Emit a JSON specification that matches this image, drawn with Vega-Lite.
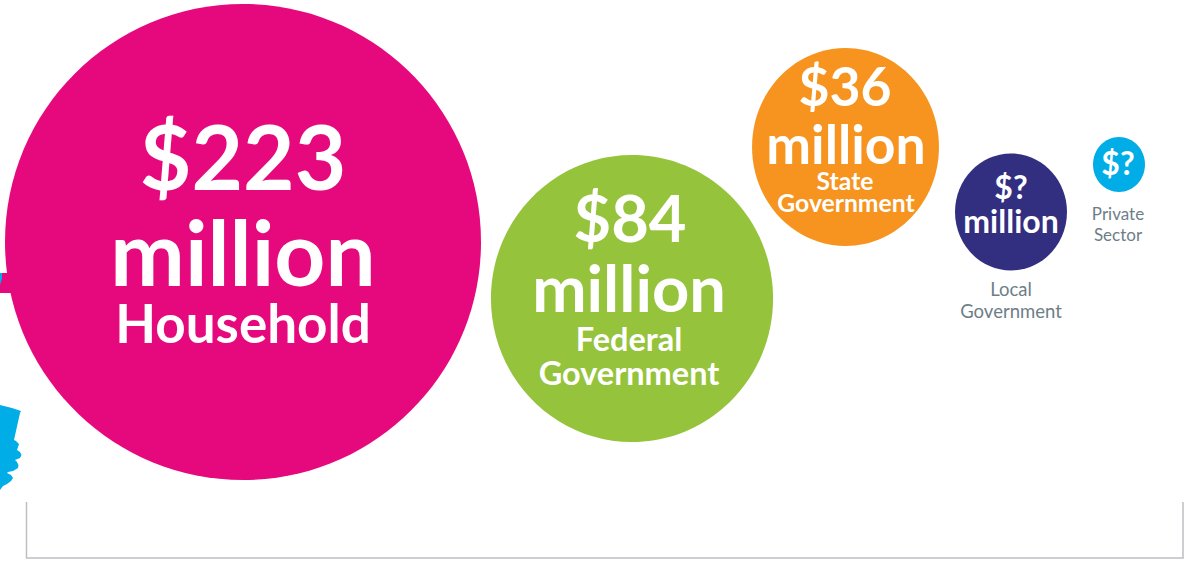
{
"$schema":"https://vega.github.io/schema/vega-lite/v6.json",
"width":1187,"height":565,
"autosize":{"type":"none"},
"padding":0,
"background":"white",
"view":{"stroke":null},
"config":{"axis":{"disable":true},"legend":{"disable":true}},
"datasets":{
"bubbles":[
{"sector":"Household","amount":223,"cx":243,"cy":242},
{"sector":"Federal Government","amount":84,"cx":632,"cy":298.5},
{"sector":"State Government","amount":36,"cx":845.5,"cy":147},
{"sector":"Local Government","amount":14,"cx":1011,"cy":212},
{"sector":"Private Sector","amount":3,"cx":1119,"cy":164.5}
],
"labels":[
{"label":"$223","cx":243,"cy":163,"role":"h1"},
{"label":"million","cx":243,"cy":259,"role":"h1"},
{"label":"Household","cx":243,"cy":327,"role":"h2"},
{"label":"$84","cx":630,"cy":222,"role":"f1"},
{"label":"million","cx":629,"cy":292,"role":"f1"},
{"label":"Federal","cx":629,"cy":341,"role":"f2"},
{"label":"Government","cx":629,"cy":375,"role":"f2"},
{"label":"$36","cx":845,"cy":90,"role":"s1"},
{"label":"million","cx":846,"cy":148,"role":"s1"},
{"label":"State","cx":845,"cy":183,"role":"s2"},
{"label":"Government","cx":846,"cy":205,"role":"s2"},
{"label":"$?","cx":1011,"cy":189,"role":"l1"},
{"label":"million","cx":1011,"cy":223,"role":"l1"},
{"label":"Local","cx":1011,"cy":289.5,"role":"cap1"},
{"label":"Government","cx":1011,"cy":311.5,"role":"cap1"},
{"label":"$?","cx":1118,"cy":165,"role":"l1"},
{"label":"Private","cx":1118,"cy":215,"role":"cap2"},
{"label":"Sector","cx":1118,"cy":236,"role":"cap2"}
],
"bracket":[
{"step":1,"cx":26.5,"cy":502},
{"step":2,"cx":26.5,"cy":558},
{"step":3,"cx":1183,"cy":558},
{"step":4,"cx":1183,"cy":502}
],
"hand":[
{"cy":405,"edge":0},{"cy":408,"edge":12},{"cy":411,"edge":21},{"cy":413,"edge":20},{"cy":440,"edge":14},{"cy":441,"edge":16},{"cy":444,"edge":19},{"cy":447,"edge":18},{"cy":450,"edge":17},{"cy":452,"edge":20},{"cy":455,"edge":21.5},{"cy":458,"edge":20},{"cy":460,"edge":15},{"cy":462,"edge":17},{"cy":465,"edge":18.5},{"cy":468,"edge":18},{"cy":471,"edge":13},{"cy":472,"edge":8},{"cy":473,"edge":7},{"cy":475,"edge":11},{"cy":478,"edge":13},{"cy":481,"edge":11},{"cy":484,"edge":7},{"cy":486,"edge":3},{"cy":490,"edge":0}
],
"arrow":[{"cy":273,"edge":15},{"cy":293,"edge":15}],
"sliver":[{"cy":273,"edge":2},{"cy":279,"edge":2},{"cy":285,"edge":0}]
},
"layer":[
{"data":{"name":"hand"},"mark":{"type":"area","orient":"horizontal","color":"#00ADE6"},
 "encoding":{"y":{"field":"cy","type":"quantitative","scale":{"domain":[0,565],"reverse":true,"nice":false,"zero":false},"axis":null},
 "x":{"field":"edge","type":"quantitative","scale":{"domain":[0,1187],"nice":false,"zero":false},"axis":null},"x2":{"datum":0}}},
{"data":{"name":"arrow"},"mark":{"type":"area","orient":"horizontal","color":"#E6097D"},
 "encoding":{"y":{"field":"cy","type":"quantitative"},"x":{"field":"edge","type":"quantitative"},"x2":{"datum":0}}},
{"data":{"name":"sliver"},"mark":{"type":"area","orient":"horizontal","color":"#00ADE6"},
 "encoding":{"y":{"field":"cy","type":"quantitative"},"x":{"field":"edge","type":"quantitative"},"x2":{"datum":0}}},
{"data":{"name":"bubbles"},"mark":{"type":"point","filled":true,"opacity":1,"strokeWidth":0},
 "encoding":{"x":{"field":"cx","type":"quantitative"},"y":{"field":"cy","type":"quantitative"},
 "size":{"field":"amount","type":"quantitative","scale":{"domain":[3,14,36,84,223],"range":[3025,13689,39204,82369,226576],"zero":false}},
 "color":{"field":"sector","type":"nominal","scale":{"domain":["Household","Federal Government","State Government","Local Government","Private Sector"],"range":["#E6097D","#96C33C","#F6941F","#322E80","#00ADE6"]}},
 "shape":{"field":"sector","type":"nominal","scale":{"domain":["Household","Federal Government","State Government","Local Government","Private Sector"],"range":[
 "M-1,0A1,1 0 1,1 1,0A1,1 0 1,1 -1,0Z",
 "M-0.983,0A0.983,1 0 1,1 0.983,0A0.983,1 0 1,1 -0.983,0Z",
 "M-0.944,0A0.944,1 0 1,1 0.944,0A0.944,1 0 1,1 -0.944,0Z",
 "M-0.957,0A0.957,1 0 1,1 0.957,0A0.957,1 0 1,1 -0.957,0Z",
 "M-0.945,0A0.945,1 0 1,1 0.945,0A0.945,1 0 1,1 -0.945,0Z"]}}}},
{"data":{"name":"bracket"},"mark":{"type":"line","color":"#BCBEC2","strokeWidth":1.5},
 "encoding":{"x":{"field":"cx","type":"quantitative"},"y":{"field":"cy","type":"quantitative"},"order":{"field":"step","type":"ordinal"}}},
{"data":{"name":"labels"},"transform":[{"filter":"datum.role !== 'cap1' && datum.role !== 'cap2'"}],"mark":{"type":"text","font":"Lato","fontWeight":700,"align":"center","baseline":"middle"},
 "encoding":{"x":{"field":"cx","type":"quantitative"},"y":{"field":"cy","type":"quantitative"},"text":{"field":"label"},
 "size":{"field":"role","type":"ordinal","scale":{"type":"ordinal","domain":["h1","h2","f1","f2","s1","s2","l1"],"range":[89,53,65,32.5,53.5,24.7,32]}},
 "color":{"value":"#ffffff"}}},
{"data":{"name":"labels"},"transform":[{"filter":"datum.role === 'cap1' || datum.role === 'cap2'"}],"mark":{"type":"text","font":"Lato","fontWeight":400,"align":"center","baseline":"middle","color":"#6D7E88"},
 "encoding":{"x":{"field":"cx","type":"quantitative"},"y":{"field":"cy","type":"quantitative"},"text":{"field":"label"},
 "size":{"field":"role","type":"ordinal","scale":{"type":"ordinal","domain":["cap1","cap2"],"range":[18.5,17]}}}}
],
"resolve":{"scale":{"color":"independent","size":"independent"}}
}
